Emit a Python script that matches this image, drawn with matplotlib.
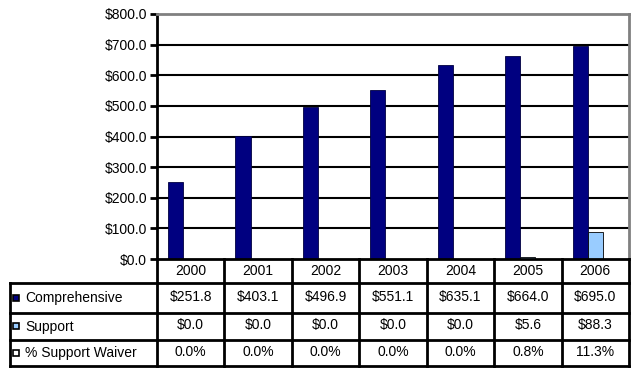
import matplotlib
matplotlib.use('Agg')
import matplotlib.pyplot as plt
from matplotlib.patches import Rectangle

plt.rcParams['font.family'] = ['Liberation Sans', 'DejaVu Sans']

years = ['2000', '2001', '2002', '2003', '2004', '2005', '2006']
comprehensive = [251.8, 403.1, 496.9, 551.1, 635.1, 664.0, 695.0]
support = [0.0, 0.0, 0.0, 0.0, 0.0, 5.6, 88.3]
waiver = [0.0, 0.0, 0.0, 0.0, 0.0, 0.8, 11.3]  # percent

seriesNames = ['Comprehensive', 'Support', '% Support Waiver']
seriesColors = ['#000080', '#99ccff', '#ffffff']
yTicks = [0, 100, 200, 300, 400, 500, 600, 700, 800]

W, H = 640, 375
fs = 10
fig = plt.figure(figsize=(W / 100, H / 100), dpi=100)
fig.patch.set_facecolor('white')

# chart area in pixel coordinates
left, right, top, bottom = 157, 629, 14, 259
ax = fig.add_axes([left / W, 1 - bottom / H, (right - left) / W, (bottom - top) / H])

n = len(years)
xs = [i + 0.5 for i in range(n)]
bw = 0.225
ax.bar([x - bw for x in xs], comprehensive, bw, color=seriesColors[0], edgecolor='#000040', linewidth=0.6, zorder=3)
ax.bar(xs, support, bw, color=seriesColors[1], edgecolor='#000000', linewidth=0.6, zorder=3)
ax.bar([x + bw for x in xs], [v / 100 for v in waiver], bw, color=seriesColors[2], edgecolor='#000000',
       linewidth=0.6, zorder=3)

ax.set_xlim(0, n)
ax.set_ylim(0, 800)
ax.set_yticks(yTicks)
ax.set_yticklabels(['$%.1f' % v for v in yTicks], fontsize=fs)
ax.set_xticks([])
ax.tick_params(axis='y', length=5, width=2, pad=2, direction='out')
for v in yTicks[1:-1]:
    ax.axhline(v, color='black', linewidth=1.5, zorder=1)
ax.spines['left'].set_linewidth(2)
ax.spines['left'].set_color('black')
ax.spines['bottom'].set_visible(False)
ax.spines['top'].set_color('#808080')
ax.spines['top'].set_linewidth(2)
ax.spines['right'].set_color('#808080')
ax.spines['right'].set_linewidth(2)

# data table below the chart
tleft, tbottom = 10, 366
rowLines = [259, 283, 313, 340, 366]
tab = fig.add_axes([0, 0, 1, 1])
tab.set_xlim(0, W)
tab.set_ylim(H, 0)
tab.axis('off')
cw = (right - left) / n
lw = 2

# horizontal lines
tab.plot([left, right], [rowLines[0], rowLines[0]], color='black', linewidth=lw)
for y in rowLines[1:]:
    tab.plot([tleft, right], [y, y], color='black', linewidth=lw)
# vertical lines
tab.plot([tleft, tleft], [rowLines[1], tbottom], color='black', linewidth=lw)
for i in range(n + 1):
    x = left + i * cw
    tab.plot([x, x], [rowLines[0], tbottom], color='black', linewidth=lw)

rows = [
    ['$%.1f' % v for v in comprehensive],
    ['$%.1f' % v for v in support],
    ['%.1f%%' % v for v in waiver],
]
for i, yr in enumerate(years):
    cx = left + (i + 0.5) * cw
    tab.text(cx, (rowLines[0] + rowLines[1]) / 2, yr, ha='center', va='center', fontsize=fs)
    for r, vals in enumerate(rows):
        cy = (rowLines[r + 1] + rowLines[r + 2]) / 2
        tab.text(cx, cy - 1, vals[i], ha='center', va='center', fontsize=fs)

for r, name in enumerate(seriesNames):
    cy = (rowLines[r + 1] + rowLines[r + 2]) / 2
    tab.add_patch(Rectangle((tleft + 3, cy - 3.5), 6, 6, facecolor=seriesColors[r], edgecolor='black',
                            linewidth=1.2))
    tab.text(tleft + 15, cy, name, ha='left', va='center', fontsize=fs)

fig.savefig('out.png', dpi=100, facecolor='white')
